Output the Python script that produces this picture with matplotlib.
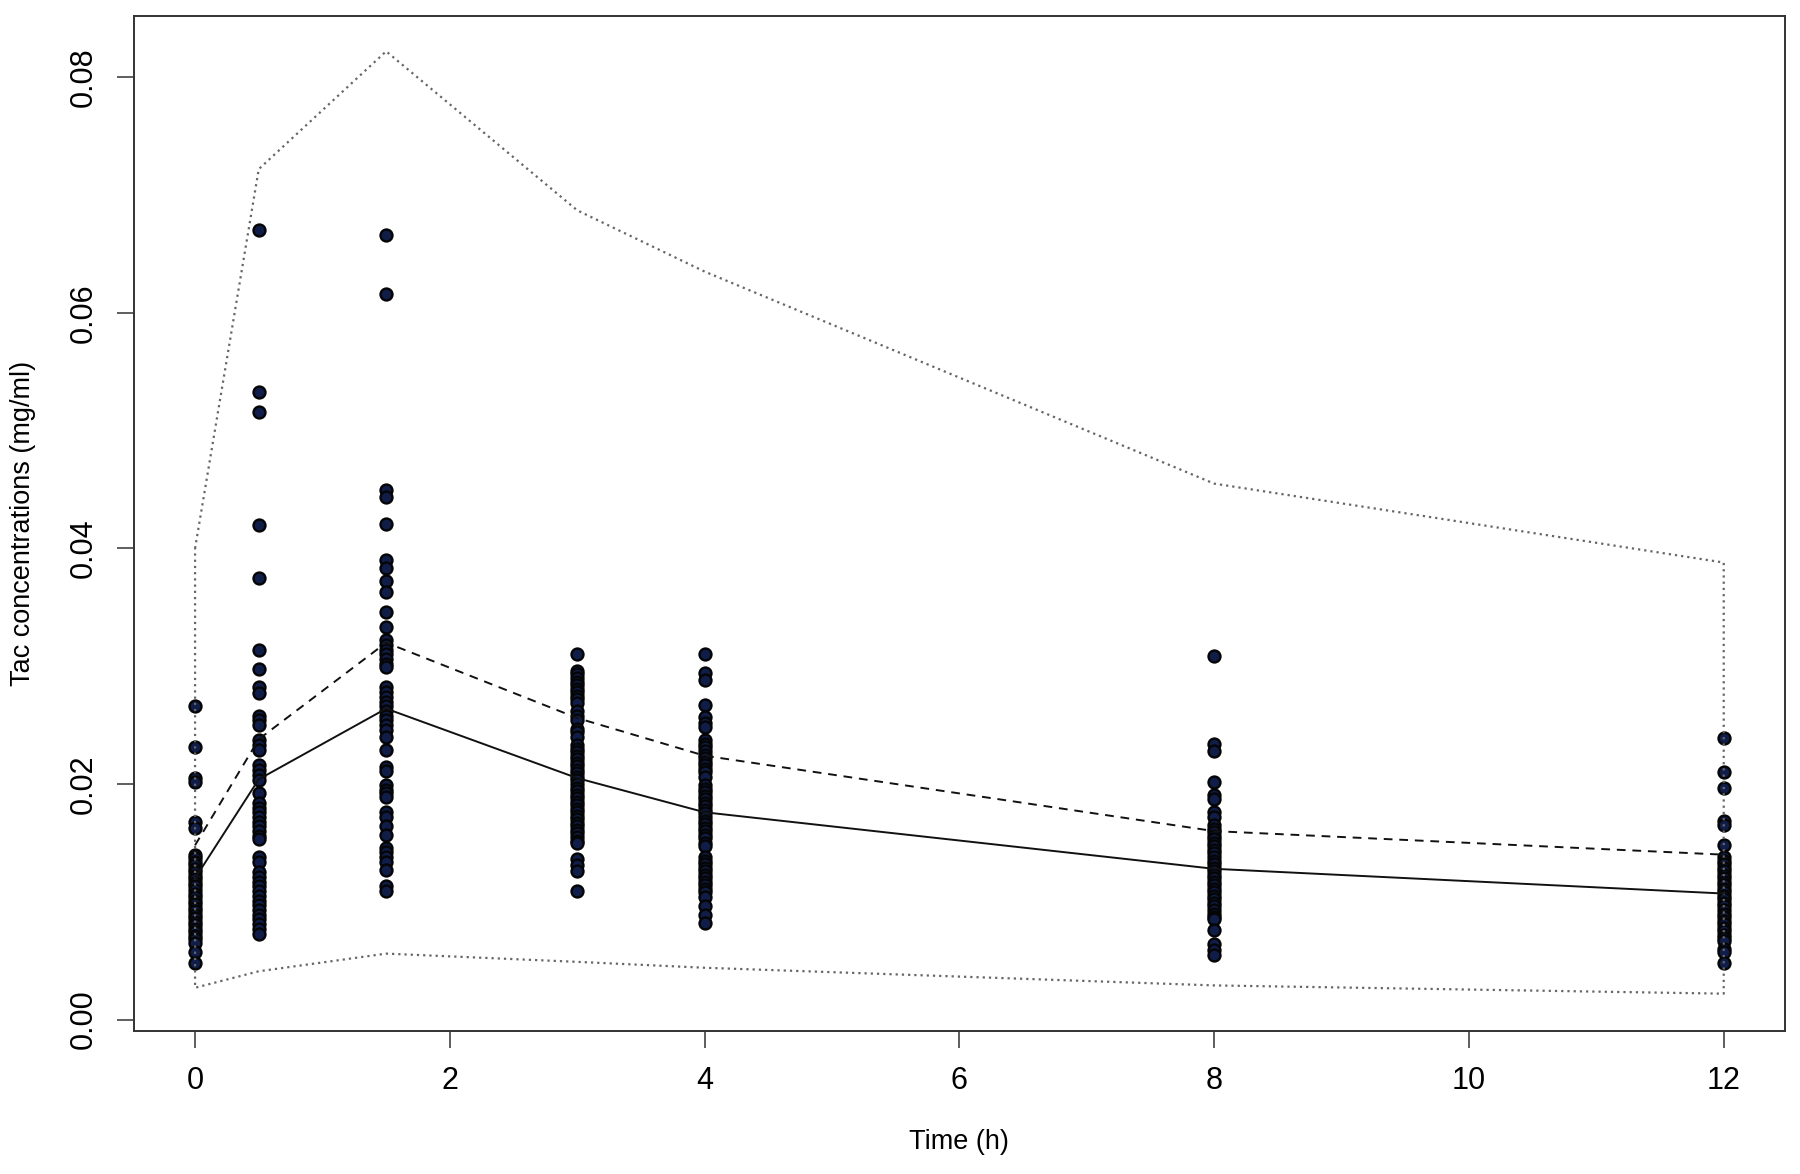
import numpy as np
import matplotlib.pyplot as plt

plt.rcParams['font.family'] = ['Liberation Sans', 'DejaVu Sans']

# sampling times (h)
times = [0, 0.5, 1.5, 3, 4, 8, 12]

# observed Tac concentrations (mg/ml) per sampling time
conc_t0 = [0.0266, 0.0231, 0.0205, 0.0202, 0.0168, 0.0163, 0.0140, 0.0137, 0.0134,
           0.0131, 0.0128, 0.0125, 0.0122, 0.0119, 0.0116, 0.0113, 0.0110, 0.0107,
           0.0104, 0.0101, 0.0098, 0.0095, 0.0092, 0.0089, 0.0086, 0.0083, 0.0080,
           0.0077, 0.0074, 0.0071, 0.0068, 0.0065, 0.0057, 0.0048]
conc_t05 = [0.0670, 0.0533, 0.0516, 0.0420, 0.0375, 0.0314, 0.0298, 0.0282, 0.0277,
            0.0258, 0.0254, 0.0250, 0.0237, 0.0233, 0.0229, 0.0216, 0.0212, 0.0208,
            0.0203, 0.0192, 0.0184, 0.0180, 0.0176, 0.0172, 0.0168, 0.0164, 0.0160,
            0.0156, 0.0153, 0.0138, 0.0134, 0.0125, 0.0121, 0.0117, 0.0113, 0.0109,
            0.0105, 0.0101, 0.0097, 0.0093, 0.0089, 0.0085, 0.0081, 0.0077, 0.0073]
conc_t15 = [0.0666, 0.0616, 0.0450, 0.0444, 0.0421, 0.0390, 0.0383, 0.0372, 0.0363,
            0.0346, 0.0333, 0.0322, 0.0318, 0.0314, 0.0310, 0.0306, 0.0302, 0.0299,
            0.0282, 0.0278, 0.0274, 0.0270, 0.0266, 0.0262, 0.0258, 0.0254, 0.0250,
            0.0246, 0.0240, 0.0229, 0.0214, 0.0211, 0.0199, 0.0195, 0.0192, 0.0189,
            0.0176, 0.0172, 0.0164, 0.0157, 0.0146, 0.0142, 0.0138, 0.0134, 0.0127,
            0.0113, 0.0109]
conc_t3 = [0.0310, 0.0296, 0.0293, 0.0290, 0.0287, 0.0284, 0.0281, 0.0278, 0.0275,
           0.0272, 0.0269, 0.0262, 0.0258, 0.0254, 0.0247, 0.0244, 0.0240, 0.0233,
           0.0230, 0.0227, 0.0224, 0.0221, 0.0218, 0.0215, 0.0212, 0.0209, 0.0206,
           0.0203, 0.0200, 0.0197, 0.0194, 0.0191, 0.0188, 0.0185, 0.0182, 0.0179,
           0.0176, 0.0173, 0.0170, 0.0167, 0.0164, 0.0161, 0.0158, 0.0155, 0.0152,
           0.0150, 0.0136, 0.0131, 0.0126, 0.0109]
conc_t4 = [0.0310, 0.0294, 0.0288, 0.0267, 0.0257, 0.0252, 0.0248, 0.0237, 0.0234,
           0.0231, 0.0228, 0.0225, 0.0222, 0.0219, 0.0216, 0.0213, 0.0210, 0.0206,
           0.0199, 0.0196, 0.0193, 0.0190, 0.0187, 0.0184, 0.0181, 0.0178, 0.0175,
           0.0172, 0.0169, 0.0166, 0.0163, 0.0160, 0.0157, 0.0154, 0.0150, 0.0147,
           0.0138, 0.0135, 0.0132, 0.0129, 0.0126, 0.0123, 0.0120, 0.0117, 0.0114,
           0.0111, 0.0108, 0.0104, 0.0096, 0.0089, 0.0082]
conc_t8 = [0.0309, 0.0234, 0.0228, 0.0202, 0.0191, 0.0187, 0.0176, 0.0172, 0.0165,
           0.0162, 0.0159, 0.0156, 0.0153, 0.0150, 0.0147, 0.0144, 0.0141, 0.0138,
           0.0135, 0.0132, 0.0129, 0.0126, 0.0123, 0.0120, 0.0117, 0.0114, 0.0111,
           0.0108, 0.0105, 0.0102, 0.0099, 0.0096, 0.0093, 0.0090, 0.0087, 0.0085,
           0.0076, 0.0064, 0.0059, 0.0055]
conc_t12 = [0.0239, 0.0210, 0.0197, 0.0169, 0.0165, 0.0148, 0.0138, 0.0135, 0.0132,
            0.0129, 0.0126, 0.0123, 0.0120, 0.0117, 0.0114, 0.0111, 0.0108, 0.0105,
            0.0102, 0.0099, 0.0096, 0.0093, 0.0090, 0.0087, 0.0084, 0.0081, 0.0078,
            0.0075, 0.0072, 0.0069, 0.0067, 0.0060, 0.0057, 0.0048]
observed = [conc_t0, conc_t05, conc_t15, conc_t3, conc_t4, conc_t8, conc_t12]

# summary profiles
median_line = [0.0120, 0.0204, 0.0264, 0.0205, 0.0176, 0.0128, 0.0107]
dashed_line = [0.0148, 0.0238, 0.0320, 0.0256, 0.0224, 0.0160, 0.0140]
upper_pi = [0.0400, 0.0722, 0.0822, 0.0687, 0.0635, 0.0455, 0.0388]
lower_pi = [0.0027, 0.0041, 0.0056, 0.0049, 0.0044, 0.0029, 0.0022]

xticks = [0, 2, 4, 6, 8, 10, 12]
yticks = [0.00, 0.02, 0.04, 0.06, 0.08]

fig = plt.figure(figsize=(18, 11.74), dpi=100)
ax = fig.add_axes([0.0744, 0.1218, 0.9172, 0.8646])

# observed points
for t, vals in zip(times, observed):
    ax.plot(np.full(len(vals), t), vals, 'o', ms=8.6, mfc='#0f1d48', mec='#050505',
            mew=1.7, zorder=2)

# prediction interval drawn as a closed dotted outline
poly_x = times + times[::-1] + [times[0]]
poly_y = upper_pi + lower_pi[::-1] + [upper_pi[0]]
ax.plot(poly_x, poly_y, color='#666666', lw=1.6, ls=(0, (1, 1.8)), zorder=3)

ax.plot(times, dashed_line, color='#111111', lw=1.4, ls=(0, (4.5, 3.5)), zorder=3)
ax.plot(times, median_line, color='#111111', lw=1.4, zorder=3)

ax.set_xlim(-0.48, 12.48)
ax.set_ylim(-0.00097, 0.0852)
ax.set_xticks(xticks)
ax.set_xticklabels([str(v) for v in xticks])
ax.set_yticks(yticks)
ax.set_yticklabels(['%.2f' % v for v in yticks], rotation=90, va='center')

ax.tick_params(direction='out', length=12, width=1.1, colors='#333333',
               labelcolor='black', labelsize=22, pad=13)
for sp in ax.spines.values():
    sp.set_linewidth(1.4)
    sp.set_color('#333333')

ax.set_xlabel('Time (h)', fontsize=19.5)
ax.xaxis.set_label_coords(0.5, -0.109)
ax.xaxis.label.set_va('center')
ax.set_ylabel('Tac concentrations (mg/ml)', fontsize=19.5)
ax.yaxis.set_label_coords(-0.0672, 0.5)
ax.yaxis.label.set_va('center')

fig.savefig('out.png', dpi=100)
